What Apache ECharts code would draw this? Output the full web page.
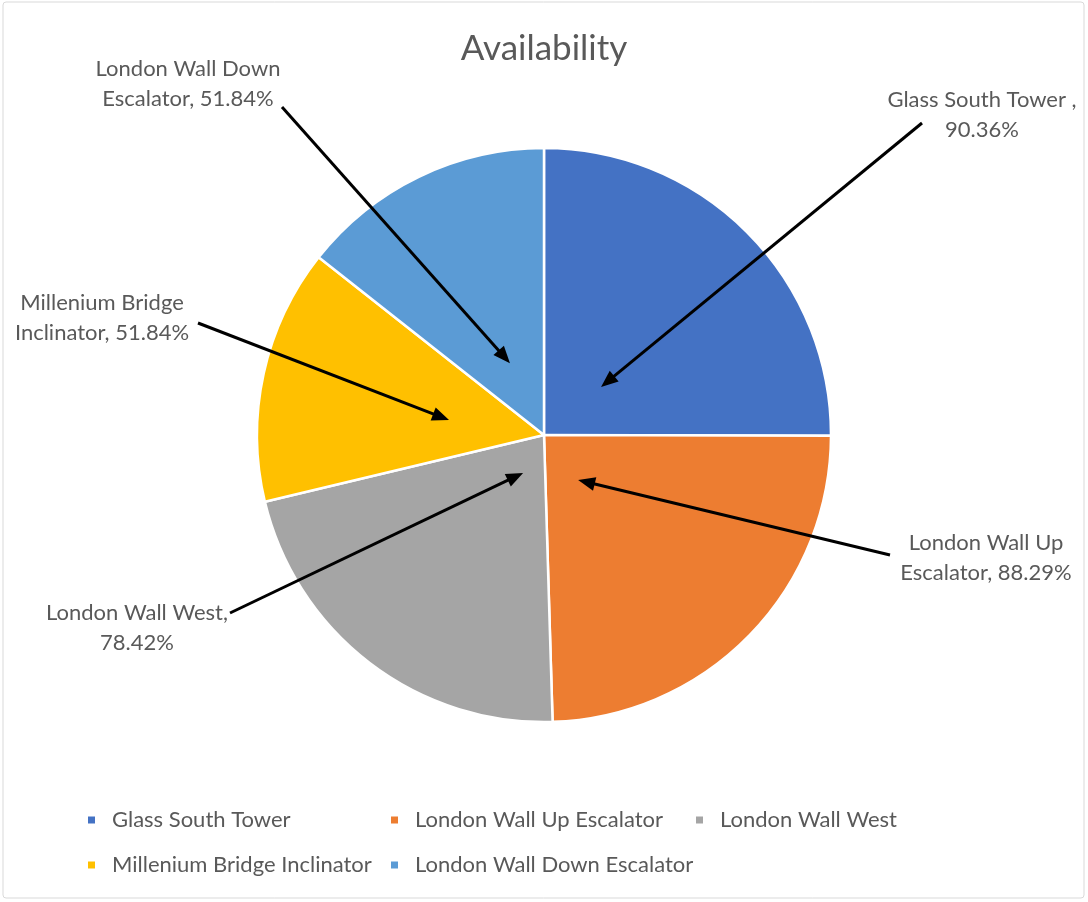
<!DOCTYPE html>
<html>
<head>
<meta charset="utf-8">
<script src="https://cdn.jsdelivr.net/npm/echarts@6/dist/echarts.min.js"></script>
<style>
html,body{margin:0;padding:0;background:#fff;}
#chart{width:1088px;height:902px;}
</style>
</head>
<body>
<div id="chart"></div>
<script>
// ---- data ----
const categories = ['Glass South Tower', 'London Wall Up Escalator', 'London Wall West', 'Millenium Bridge Inclinator', 'London Wall Down Escalator'];
const values = [90.36, 88.29, 78.42, 51.84, 51.84];
const labelTemplates = ['Glass South Tower ,\n{v}', 'London Wall Up\nEscalator, {v}', 'London Wall West,\n{v}', 'Millenium Bridge\nInclinator, {v}', 'London Wall Down\nEscalator, {v}'];
const colors = ['#4472C4', '#ED7D31', '#A5A5A5', '#FFC000', '#5B9BD5'];

// ---- layout (positions / styles) ----
const CX = 544, CY = 435, R = 287;
const FONT = 'Lato, "Noto Sans", sans-serif';
const TEXT_COLOR = '#595959';
// label centre positions
const labelPos = [[982, 115], [986, 558], [137, 628], [102, 318], [188, 84]];
// arrow tails
const arrowTail = [[922, 123], [890, 555], [230, 613], [198, 323], [282, 107]];
// arrow tip: [fraction of slice angle, fraction of radius]
const arrowTip = [[0.553, 0.26], [0.598, 0.197], [0.39, 0.151], [0.433, 0.335], [0.51, 0.277]];
// legend item positions
const legendPos = [[86, 809], [389, 809], [694, 809], [86, 854], [389, 854]];

const total = values.reduce((a, b) => a + b, 0);
let cum = 0;
const tips = values.map((v, i) => {
  const a0 = cum / total * 360;
  cum += v;
  const a1 = cum / total * 360;
  const a = (a0 + (a1 - a0) * arrowTip[i][0]) * Math.PI / 180;
  const r = R * arrowTip[i][1];
  return [CX + r * Math.sin(a), CY - r * Math.cos(a)];
});

const graphics = [{
  type: 'rect', shape: {x: 3, y: 2, width: 1081, height: 896, r: 3},
  style: {fill: 'none', stroke: '#d9d9d9', lineWidth: 1}, z: 0
}];
tips.forEach((t, i) => {
  const s = arrowTail[i];
  const dx = t[0] - s[0], dy = t[1] - s[1];
  const L = Math.sqrt(dx * dx + dy * dy);
  const ux = dx / L, uy = dy / L;
  const hl = 17, hw = 7;
  const bx = t[0] - ux * hl, by = t[1] - uy * hl;
  graphics.push({
    type: 'line', z: 100,
    shape: {x1: s[0], y1: s[1], x2: bx + ux * 2, y2: by + uy * 2},
    style: {stroke: '#000', lineWidth: 3}
  });
  graphics.push({
    type: 'polygon', z: 100,
    shape: {points: [[t[0], t[1]], [bx - uy * hw, by + ux * hw], [bx + uy * hw, by - ux * hw]]},
    style: {fill: '#000'}
  });
});

const legends = categories.map((c, i) => ({
  data: [c],
  left: legendPos[i][0], top: legendPos[i][1],
  padding: 0, itemWidth: 9, itemHeight: 9, itemGap: 7,
  icon: 'rect',
  textStyle: {fontFamily: FONT, fontSize: 22, color: TEXT_COLOR, padding: [0, 0, 0, 11]},
  selectedMode: false
}));

const chart = echarts.init(document.getElementById('chart'));
chart.setOption({
  animation: false,
  color: colors,
  title: {
    text: 'Availability', left: 'center', top: 26,
    textStyle: {fontFamily: FONT, fontSize: 35, fontWeight: 'normal', color: TEXT_COLOR}
  },
  legend: legends,
  graphic: graphics,
  series: [{
    type: 'pie',
    center: [CX, CY],
    radius: R,
    startAngle: 90,
    clockwise: true,
    itemStyle: {borderColor: '#fff', borderWidth: 2.5},
    emphasis: {disabled: true},
    data: categories.map((c, i) => ({name: c, value: values[i]})),
    label: {
      show: true,
      formatter: p => labelTemplates[p.dataIndex].replace('{v}', values[p.dataIndex].toFixed(2) + '%'),
      fontFamily: FONT, fontSize: 22, lineHeight: 30, color: TEXT_COLOR, align: 'center'
    },
    labelLine: {show: false},
    labelLayout: p => ({
      x: labelPos[p.dataIndex][0], y: labelPos[p.dataIndex][1],
      align: 'center', verticalAlign: 'middle'
    })
  }]
});
</script>
</body>
</html>
